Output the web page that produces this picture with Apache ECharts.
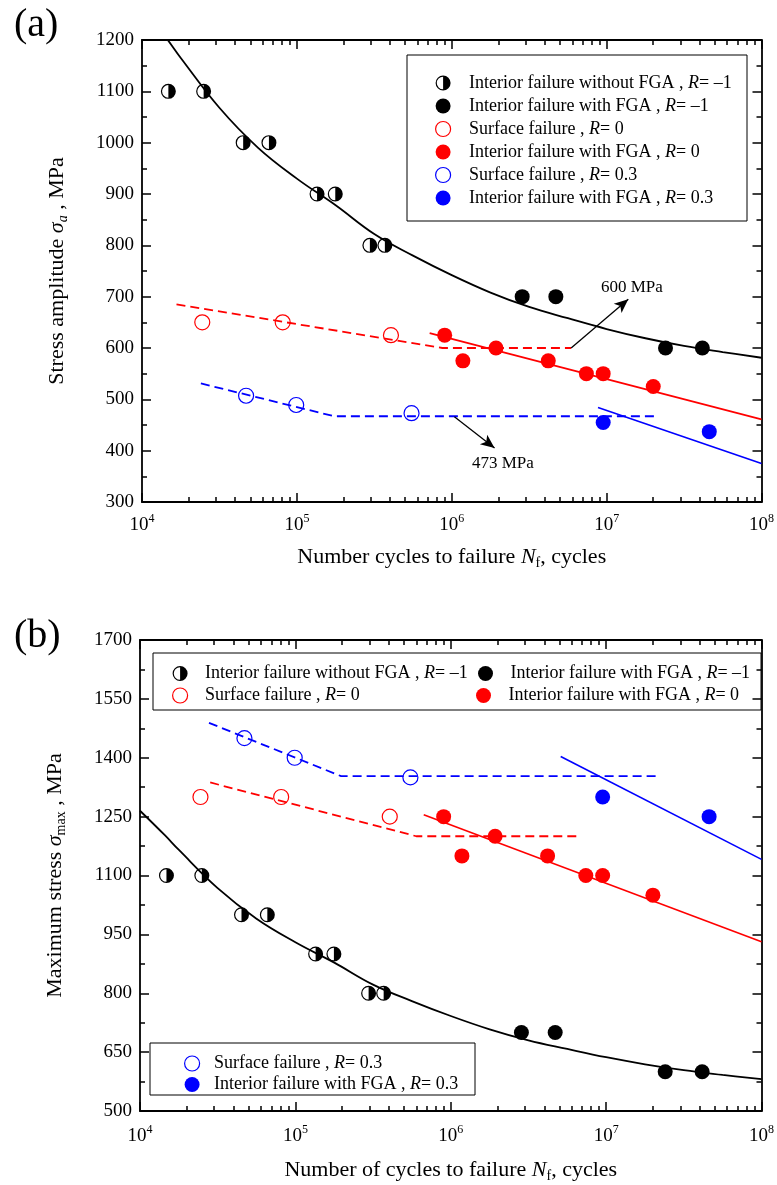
<!DOCTYPE html>
<html><head><meta charset="utf-8">
<script src="https://cdn.jsdelivr.net/npm/echarts@6/dist/echarts.min.js"></script>
<style>html,body{margin:0;padding:0;background:#fff}#c{width:777px;height:1185px}</style>
</head><body><div id="c"></div>
<script>
// ---------------- data ----------------
const xMajorTicks = [1e4, 1e5, 1e6, 1e7, 1e8];
const yTicksA = [300, 400, 500, 600, 700, 800, 900, 1000, 1100, 1200];
const yTicksB = [500, 650, 800, 950, 1100, 1250, 1400, 1550, 1700];

const NAMES = [
  'Interior failure without FGA , R= \u20131',
  'Interior failure with FGA , R= \u20131',
  'Surface failure , R= 0',
  'Interior failure with FGA , R= 0',
  'Surface failure , R= 0.3',
  'Interior failure with FGA , R= 0.3'
];

// R = -1, interior failure without FGA
const nHalf   = [1.48e4, 2.5e4, 4.5e4, 6.6e4, 1.35e5, 1.77e5, 2.96e5, 3.7e5];
const sHalfA  = [1100, 1100, 1000, 1000, 900, 900, 800, 800];
const sHalfB  = [1100, 1100, 1000, 1000, 900, 900, 800, 800];
// R = -1, interior failure with FGA
const nFgaM1  = [2.85e6, 4.7e6, 2.4e7, 4.15e7];
const sFgaM1A = [700, 700, 600, 600];
const sFgaM1B = [700, 700, 600, 600];
// R = 0, surface failure
const nSurf0  = [2.45e4, 8.1e4, 4.05e5];
const sSurf0A = [650, 650, 625];
const sSurf0B = [1300, 1300, 1250];
// R = 0, interior failure with FGA
const nFga0   = [9.0e5, 1.18e6, 1.93e6, 4.2e6, 7.4e6, 9.5e6, 2.0e7];
const sFga0A  = [625, 575, 600, 575, 550, 550, 525];
const sFga0B  = [1250, 1150, 1200, 1150, 1100, 1100, 1050];
// R = 0.3, surface failure
const nSurf03  = [4.7e4, 9.9e4, 5.5e5];
const sSurf03A = [507, 489, 473];
const sSurf03B = [1450, 1400, 1350];
// R = 0.3, interior failure with FGA
const nFga03  = [9.5e6, 4.6e7];
const sFga03A = [455, 437];
const sFga03B = [1300, 1250];

// fitted curves / lines
const nCurveM1 = [1e4, 1.45e4, 1.78e4, 3.16e4, 5.62e4, 1e5, 1.78e5, 3.16e5, 5.62e5, 1e6, 1.78e6, 3.16e6, 5.62e6, 1e7, 1.78e7, 3.16e7, 5.62e7, 1e8];
const sCurveM1 = [1265, 1202, 1165, 1068, 990, 930, 878, 822, 780, 742, 708, 680, 658, 637, 619, 604, 592, 581];

const nDash0A  = [1.67e4, 8.7e5, 5.9e6];   const sDash0A  = [685, 600, 600];
const nDash03A = [2.4e4, 1.74e5, 2.14e7];  const sDash03A = [531, 467, 467];
const nFit0A   = [7.2e5, 1e8];             const sFit0A   = [629, 461];
const nFit03A  = [8.8e6, 1e8];             const sFit03A  = [484, 375];

const nDash0B  = [2.83e4, 6.0e5, 6.6e6];   const sDash0B  = [1337, 1200, 1200];
const nDash03B = [2.78e4, 1.97e5, 2.15e7]; const sDash03B = [1489, 1353, 1353];
const nFit0B   = [6.7e5, 1e8];             const sFit0B   = [1255, 931];
const nFit03B  = [5.1e6, 1e8];             const sFit03B  = [1403, 1141];

// annotations of panel (a)
const note600 = { text: '600 MPa', from: [5.9e6, 600], to: [1.38e7, 695] };
const note473 = { text: '473 MPa', from: [1.04e6, 466], to: [1.89e6, 405] };

// ---------------- helpers ----------------
const FONT = 'Liberation Serif';
const zip = (a, b) => a.map((v, i) => [v, b[i]]);
const xMinorTicks = [];
xMajorTicks.slice(0, -1).forEach(d => { for (let k = 2; k <= 9; k++) xMinorTicks.push(k * d); });
const minorsBetween = t => t.slice(0, -1).map((v, i) => (v + t[i + 1]) / 2);

const HALF = 'path://M0,-10A10,10 0 1,1 0,10A10,10 0 1,1 0,-10Z M0,-8.4A8.4,8.4 0 0,0 0,8.4Z';
const RED = '#ff0000', BLUE = '#0000ff', BLACK = '#000000';

const tickLine = { color: '#000', width: 1.5 };
const axisLine = { show: true, onZero: false, lineStyle: { color: '#000', width: 1.8 } };

function nameStyle(size) {
  return {
    fontFamily: FONT, fontSize: size, color: '#000', lineHeight: 26,
    rich: {
      i: { fontFamily: FONT, fontSize: size, fontStyle: 'italic', color: '#000', lineHeight: 26 },
      s: { fontFamily: FONT, fontSize: 14, color: '#000', lineHeight: 12, verticalAlign: 'bottom' },
      si: { fontFamily: FONT, fontSize: 14, fontStyle: 'italic', color: '#000', lineHeight: 12, verticalAlign: 'bottom' }
    }
  };
}

function logAxes(gi, name, nameGap, labelMargin) {
  const base = { gridIndex: gi, type: 'log', logBase: 10, min: 1e4, max: 1e8,
    splitLine: { show: false }, axisLine: { show: false, onZero: false },
    axisLabel: { show: false }, axisTick: { show: false } };
  return [
    Object.assign({}, base, {
      position: 'bottom', axisLine: axisLine,
      axisTick: { show: true, inside: true, length: 9, lineStyle: tickLine, customValues: xMajorTicks },
      axisLabel: { show: true, customValues: xMajorTicks, margin: labelMargin,
        formatter: v => '{b|10}{e|' + Math.round(Math.log10(v)) + '}',
        rich: {
          b: { fontFamily: FONT, fontSize: 19, color: '#000', lineHeight: 24 },
          e: { fontFamily: FONT, fontSize: 12, color: '#000', lineHeight: 12, verticalAlign: 'top' }
        } },
      name: name, nameLocation: 'middle', nameGap: nameGap, nameTextStyle: nameStyle(22)
    }),
    Object.assign({}, base, { position: 'bottom',
      axisTick: { show: true, inside: true, length: 5, lineStyle: tickLine, customValues: xMinorTicks } }),
    Object.assign({}, base, { position: 'top', axisLine: axisLine,
      axisTick: { show: true, inside: true, length: 9, lineStyle: tickLine, customValues: xMajorTicks } }),
    Object.assign({}, base, { position: 'top',
      axisTick: { show: true, inside: true, length: 5, lineStyle: tickLine, customValues: xMinorTicks } })
  ];
}

function valAxes(gi, majors, name, nameGap) {
  const minors = minorsBetween(majors);
  const base = { gridIndex: gi, type: 'value', min: majors[0], max: majors[majors.length - 1],
    splitLine: { show: false }, axisLine: { show: false, onZero: false },
    axisLabel: { show: false }, axisTick: { show: false } };
  return [
    Object.assign({}, base, {
      position: 'left', axisLine: axisLine,
      axisTick: { show: true, inside: true, length: 9, lineStyle: tickLine, customValues: majors },
      axisLabel: { show: true, customValues: majors, margin: 8, color: '#000', fontFamily: FONT, fontSize: 19,
        formatter: v => String(v) },
      name: name, nameLocation: 'middle', nameGap: nameGap, nameTextStyle: nameStyle(22)
    }),
    Object.assign({}, base, { position: 'left',
      axisTick: { show: true, inside: true, length: 5, lineStyle: tickLine, customValues: minors } }),
    Object.assign({}, base, { position: 'right', axisLine: axisLine,
      axisTick: { show: true, inside: true, length: 9, lineStyle: tickLine, customValues: majors } }),
    Object.assign({}, base, { position: 'right',
      axisTick: { show: true, inside: true, length: 5, lineStyle: tickLine, customValues: minors } })
  ];
}

function line(ai, ns, vs, color, dashed, width, smooth, extra) {
  return Object.assign({
    type: 'line', xAxisIndex: ai, yAxisIndex: ai, data: zip(ns, vs),
    showSymbol: false, symbol: 'none', smooth: smooth || false, z: 2, silent: true,
    lineStyle: { color: color, width: width, type: dashed ? [9, 5] : 'solid' }
  }, extra || {});
}

const markerStyles = [
  { symbol: HALF, itemStyle: { color: BLACK, opacity: 1 } },
  { symbol: 'circle', itemStyle: { color: BLACK, opacity: 1 } },
  { symbol: 'circle', itemStyle: { color: 'rgba(255,255,255,0)', borderColor: RED, borderWidth: 1.2, opacity: 1 } },
  { symbol: 'circle', itemStyle: { color: RED, opacity: 1 } },
  { symbol: 'circle', itemStyle: { color: 'rgba(255,255,255,0)', borderColor: BLUE, borderWidth: 1.2, opacity: 1 } },
  { symbol: 'circle', itemStyle: { color: BLUE, opacity: 1 } }
];
function scatter(ai, k, ns, vs) {
  return Object.assign({
    type: 'scatter', name: NAMES[k], xAxisIndex: ai, yAxisIndex: ai,
    data: zip(ns, vs), symbolSize: 15, z: 5, silent: true
  }, markerStyles[k]);
}

function arrow(note) {
  return {
    silent: true, animation: false, symbol: ['none', 'arrow'], symbolSize: [9, 14],
    lineStyle: { color: '#000', width: 1.3, type: 'solid', opacity: 1 }, label: { show: false },
    emphasis: { disabled: true },
    data: [[{ coord: note.from }, { coord: note.to }]]
  };
}

const legendText = {
  fontFamily: FONT, fontSize: 18, color: '#000', lineHeight: 18,
  rich: { i: { fontFamily: FONT, fontSize: 18, fontStyle: 'italic', color: '#000', lineHeight: 18 } }
};
function legend(names, left, top, itemWidth, gap) {
  return {
    data: names, left: left, top: top, orient: 'vertical', padding: 0,
    itemWidth: itemWidth, itemHeight: 15, itemGap: gap, selectedMode: false,
    itemStyle: { borderWidth: 1.2 },
    formatter: n => n.replace('R=', '{i|R}='), textStyle: legendText
  };
}

// ---------------- option ----------------
const option = {
  animation: false,
  backgroundColor: '#fff',
  grid: [
    { left: 142, top: 40, width: 620, height: 462 },
    { left: 140, top: 640, width: 630, height: 471 }
  ],
  xAxis: [].concat(
    logAxes(0, 'Number cycles to failure {i|N}{s|f}, cycles', 42, 11),
    logAxes(1, 'Number of cycles to failure {i|N}{s|f}, cycles', 46, 13)
  ),
  yAxis: [].concat(
    valAxes(0, yTicksA, 'Stress amplitude {i|\u03c3}{si|a} , MPa', 72),
    valAxes(1, yTicksB, 'Maximum stress {i|\u03c3}{s|max} , MPa', 72)
  ),
  legend: [
    legend(NAMES, 435, 74, 42, 5),
    legend([NAMES[0], NAMES[2]], 172, 664.5, 40, 4),
    legend([NAMES[1]], 478, 664.5, 40, 4),
    legend([NAMES[3]], 476, 686.5, 40, 4),
    legend([NAMES[4], NAMES[5]], 184, 1054.5, 34, 3)
  ],
  series: [
    // panel (a)
    line(0, nCurveM1, sCurveM1, BLACK, false, 1.8, 0.4),
    line(0, nDash0A, sDash0A, RED, true, 1.8, false, { markLine: arrow(note600) }),
    line(0, nDash03A, sDash03A, BLUE, true, 1.8, false, { markLine: arrow(note473) }),
    line(0, nFit0A, sFit0A, RED, false, 1.6),
    line(0, nFit03A, sFit03A, BLUE, false, 1.6),
    scatter(0, 0, nHalf, sHalfA),
    scatter(0, 1, nFgaM1, sFgaM1A),
    scatter(0, 2, nSurf0, sSurf0A),
    scatter(0, 3, nFga0, sFga0A),
    scatter(0, 4, nSurf03, sSurf03A),
    scatter(0, 5, nFga03, sFga03A),
    // panel (b)
    line(4, nCurveM1, sCurveM1, BLACK, false, 1.8, 0.4),
    line(4, nDash0B, sDash0B, RED, true, 1.8),
    line(4, nDash03B, sDash03B, BLUE, true, 1.8),
    line(4, nFit0B, sFit0B, RED, false, 1.6),
    line(4, nFit03B, sFit03B, BLUE, false, 1.6),
    scatter(4, 0, nHalf, sHalfB),
    scatter(4, 1, nFgaM1, sFgaM1B),
    scatter(4, 2, nSurf0, sSurf0B),
    scatter(4, 3, nFga0, sFga0B),
    scatter(4, 4, nSurf03, sSurf03B),
    scatter(4, 5, nFga03, sFga03B)
  ],
  graphic: [
    { type: 'text', left: 14, top: 5, style: { text: '(a)', fontFamily: FONT, fontSize: 40, fill: '#000' } },
    { type: 'text', left: 14, top: 616, style: { text: '(b)', fontFamily: FONT, fontSize: 40, fill: '#000' } },
    { type: 'rect', shape: { x: 407, y: 55, width: 340, height: 166 }, style: { fill: 'none', stroke: '#000', lineWidth: 1 }, z: 1 },
    { type: 'rect', shape: { x: 153, y: 653, width: 608, height: 57 }, style: { fill: 'none', stroke: '#000', lineWidth: 1 }, z: 1 },
    { type: 'rect', shape: { x: 150, y: 1043, width: 325, height: 52 }, style: { fill: 'none', stroke: '#000', lineWidth: 1 }, z: 1 },
    { type: 'text', left: 601, top: 279, style: { text: note600.text, fontFamily: FONT, fontSize: 17, fill: '#000' } },
    { type: 'text', left: 472, top: 455, style: { text: note473.text, fontFamily: FONT, fontSize: 17, fill: '#000' } }
  ]
};

const chart = echarts.init(document.getElementById('c'), null, { renderer: 'canvas' });
chart.setOption(option);
</script>
</body></html>
